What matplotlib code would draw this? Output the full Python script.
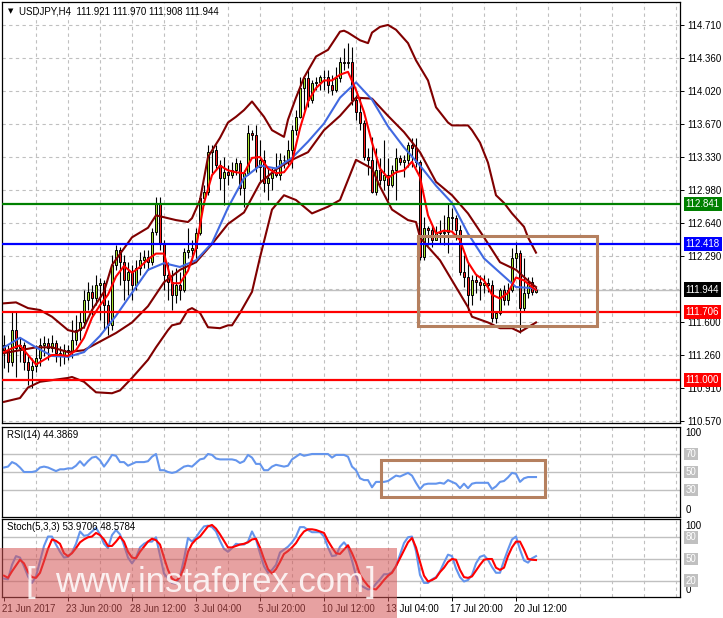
import matplotlib
matplotlib.use('Agg')
import matplotlib.pyplot as plt
import matplotlib.transforms as mtransforms
from matplotlib.patches import Rectangle
import numpy as np

plt.rcParams['font.family'] = ['Liberation Sans', 'DejaVu Sans']

# USDJPY H4 candles (134 bars, 21 Jun - 20 Jul 2017)
opens = [111.36, 111.31, 111.19, 111.52, 111.33, 111.36, 111.19, 111.10, 111.15, 111.23,
         111.36, 111.39, 111.33, 111.39, 111.28, 111.25, 111.31, 111.29, 111.42, 111.52,
         111.60, 111.83, 111.92, 111.86, 111.99, 112.01, 111.78, 111.57, 112.20, 112.36,
         112.23, 112.04, 112.13, 111.99, 112.17, 112.25, 112.28, 112.23, 112.55, 112.85,
         112.43, 112.10, 112.02, 111.89, 111.99, 111.94, 112.34, 112.36, 112.38, 112.53,
         112.90, 112.96, 113.38, 113.40, 113.25, 113.11, 113.17, 113.14, 113.19, 113.27,
         113.01, 113.16, 113.58, 113.56, 113.23, 113.30, 113.06, 113.11, 113.16, 113.14,
         113.30, 113.30, 113.40, 113.61, 113.75, 114.05, 114.16, 113.93, 114.10, 114.11,
         114.17, 114.17, 114.08, 114.03, 114.16, 114.32, 114.31, 114.32, 113.93, 113.80,
         113.69, 113.33, 113.30, 112.96, 113.19, 113.09, 113.14, 113.04, 113.19, 113.32,
         113.28, 113.30, 113.46, 113.42, 113.28, 112.28, 112.59, 112.57, 112.46, 112.55,
         112.53, 112.55, 112.70, 112.69, 112.57, 112.13, 112.08, 111.89, 112.04, 112.02,
         111.99, 112.01, 111.99, 111.65, 111.70, 111.94, 111.83, 111.94, 112.27, 112.33,
         111.75, 111.91, 112.02, 111.921]
highs = [111.47, 111.36, 111.71, 111.71, 111.44, 111.40, 111.26, 111.23, 111.36, 111.44,
         111.46, 111.44, 111.47, 111.42, 111.35, 111.37, 111.36, 111.63, 111.68, 111.71,
         111.94, 112.02, 111.99, 112.10, 112.07, 112.04, 111.83, 112.31, 112.41, 112.39,
         112.31, 112.23, 112.20, 112.25, 112.34, 112.36, 112.36, 112.59, 112.91, 112.91,
         112.46, 112.23, 112.15, 112.17, 112.13, 112.38, 112.59, 112.46, 112.59, 112.93,
         113.04, 113.46, 113.46, 113.46, 113.30, 113.33, 113.25, 113.28, 113.32, 113.30,
         113.19, 113.66, 113.61, 113.66, 113.51, 113.40, 113.21, 113.21, 113.37, 113.37,
         113.35, 113.51, 113.66, 113.82, 114.17, 114.17, 114.24, 114.13, 114.17, 114.19,
         114.24, 114.24, 114.19, 114.27, 114.38, 114.47, 114.52, 114.48, 113.98, 113.95,
         113.72, 113.42, 113.54, 113.42, 113.32, 113.51, 113.32, 113.25, 113.42, 113.35,
         113.35, 113.49, 113.53, 113.53, 113.30, 112.70, 112.61, 112.62, 112.61, 112.67,
         112.72, 112.85, 112.80, 112.72, 112.62, 112.31, 112.23, 112.10, 112.10, 112.10,
         112.10, 112.07, 112.04, 111.71, 111.96, 111.99, 112.01, 112.38, 112.44, 112.36,
         112.27, 112.08, 112.08, 111.970]
lows = [111.12, 111.08, 111.15, 111.03, 111.19, 111.10, 110.95, 110.92, 111.08, 111.15,
        111.25, 111.21, 111.29, 111.19, 111.14, 111.17, 111.21, 111.23, 111.36, 111.42,
        111.54, 111.73, 111.68, 111.78, 111.63, 111.52, 111.47, 111.52, 112.15, 111.99,
        111.83, 111.89, 111.83, 111.94, 112.10, 112.17, 112.15, 112.20, 112.51, 112.36,
        111.94, 111.83, 111.73, 111.80, 111.83, 111.92, 112.27, 112.23, 112.23, 112.51,
        112.83, 112.93, 113.16, 113.19, 112.98, 112.83, 113.04, 113.11, 113.14, 112.93,
        112.81, 113.14, 113.51, 113.17, 113.06, 112.96, 112.88, 112.98, 113.12, 113.09,
        113.21, 113.25, 113.21, 113.56, 113.74, 113.82, 113.85, 113.89, 114.03, 114.03,
        114.03, 114.00, 113.98, 114.01, 114.11, 114.24, 114.26, 113.87, 113.72, 113.61,
        113.30, 113.14, 112.95, 112.93, 113.04, 112.98, 112.88, 113.02, 112.88, 113.25,
        113.12, 113.23, 113.23, 113.23, 112.25, 112.25, 112.41, 112.39, 112.46, 112.43,
        112.41, 112.33, 112.57, 112.46, 112.10, 111.97, 111.71, 111.78, 111.91, 111.83,
        111.91, 111.92, 111.60, 111.59, 111.68, 111.78, 111.78, 111.92, 112.17, 111.49,
        111.71, 111.86, 111.89, 111.908]
closes = [111.31, 111.19, 111.52, 111.33, 111.36, 111.19, 111.10, 111.15, 111.23, 111.36,
          111.39, 111.33, 111.39, 111.28, 111.25, 111.31, 111.29, 111.42, 111.52, 111.60,
          111.83, 111.92, 111.86, 111.99, 112.01, 111.78, 111.57, 112.20, 112.36, 112.23,
          112.04, 112.13, 111.99, 112.17, 112.25, 112.28, 112.23, 112.55, 112.85, 112.43,
          112.10, 112.02, 111.89, 111.99, 111.94, 112.34, 112.36, 112.38, 112.53, 112.90,
          112.96, 113.38, 113.40, 113.25, 113.11, 113.17, 113.14, 113.19, 113.27, 113.01,
          113.16, 113.58, 113.56, 113.23, 113.30, 113.06, 113.11, 113.16, 113.14, 113.30,
          113.30, 113.40, 113.61, 113.75, 114.05, 114.16, 113.93, 114.10, 114.11, 114.17,
          114.17, 114.08, 114.03, 114.16, 114.32, 114.31, 114.32, 113.93, 113.80, 113.69,
          113.33, 113.30, 112.96, 113.19, 113.09, 113.14, 113.04, 113.19, 113.32, 113.28,
          113.30, 113.46, 113.42, 113.28, 112.28, 112.59, 112.57, 112.46, 112.55, 112.53,
          112.55, 112.70, 112.69, 112.57, 112.13, 112.08, 111.89, 112.04, 112.02, 111.99,
          112.01, 111.99, 111.65, 111.70, 111.94, 111.83, 111.94, 112.27, 112.33, 111.75,
          111.91, 112.02, 111.921, 111.944]

# fast MA (red), read every 2 bars
fast_bars = list(range(0, 133, 2)) + [133]
ma_fast = [111.29, 111.33, 111.36, 111.26, 111.16, 111.21, 111.26, 111.26, 111.25, 111.31,
           111.44, 111.65, 111.78, 111.89, 112.08, 112.19, 112.12, 112.18, 112.26, 112.32,
           112.32, 112.01, 112.01, 112.14, 112.38, 112.85, 113.14, 113.24, 113.19, 113.17,
           113.16, 113.32, 113.33, 113.21, 113.16, 113.17, 113.28, 113.63, 113.91, 114.05,
           114.13, 114.13, 114.19, 114.22, 114.03, 113.80, 113.48, 113.21, 113.11, 113.17,
           113.19, 113.28, 113.12, 112.72, 112.53, 112.56, 112.55, 112.46, 112.23, 112.10,
           112.04, 111.89, 111.85, 111.91, 112.07, 112.04, 111.97, 111.94]

# slow MA (blue) and Bollinger middle, read every 4 bars
band_bars = list(range(0, 133, 4)) + [133]
ma_slow = [111.34, 111.44, 111.34, 111.25, 111.24, 111.29, 111.46, 111.67, 111.91, 112.15,
           112.22, 112.18, 112.25, 112.43, 112.80, 113.11, 113.24, 113.21, 113.32, 113.49,
           113.68, 113.95, 114.11, 113.93, 113.65, 113.43, 113.24, 113.03, 112.85, 112.53,
           112.27, 112.12, 111.97, 111.96, 111.94]
bb_middle = [111.28, 111.31, 111.34, 111.34, 111.29, 111.31, 111.40, 111.49, 111.60, 111.77,
             112.02, 112.15, 112.23, 112.42, 112.63, 112.75, 113.06, 113.20, 113.30, 113.38,
             113.61, 113.76, 113.95, 113.94, 113.76, 113.59, 113.38, 113.07, 112.93, 112.74,
             112.49, 112.23, 112.15, 112.00, 111.97]

# Bollinger upper / lower, read at their turning points
upper_bars = [0, 3, 6, 9, 12, 16, 18, 20, 22, 25, 27, 32, 36, 38, 40, 43, 46, 47, 49, 51,
              54, 56, 58, 60, 62, 65, 67, 70, 71, 73, 75, 78, 81, 84, 85, 86, 89, 91, 92, 94,
              96, 98, 101, 103, 106, 108, 111, 112, 116, 117, 119, 121, 123, 125, 127, 130,
              131, 133]
bb_upper = [111.80, 111.81, 111.75, 111.73, 111.66, 111.52, 111.50, 111.55, 111.73, 111.92,
            112.20, 112.49, 112.59, 112.72, 112.70, 112.67, 112.65, 112.69, 112.88, 113.33,
            113.53, 113.69, 113.75, 113.82, 113.91, 113.75, 113.61, 113.54, 113.72, 113.95,
            114.16, 114.38, 114.45, 114.64, 114.65, 114.63, 114.55, 114.52, 114.63, 114.69,
            114.71, 114.66, 114.52, 114.34, 114.13, 113.85, 113.69, 113.66, 113.66, 113.61,
            113.48, 113.27, 112.93, 112.85, 112.74, 112.60, 112.49, 112.33]
lower_bars = [0, 4, 6, 9, 16, 17, 20, 23, 27, 29, 32, 36, 38, 41, 42, 44, 46, 47, 49, 51,
              54, 56, 57, 59, 62, 64, 67, 70, 73, 77, 81, 84, 88, 92, 94, 97, 101, 103, 104,
              106, 109, 112, 116, 117, 119, 121, 124, 127, 129, 131, 133]
bb_lower = [110.77, 110.81, 110.92, 110.98, 111.02, 111.03, 110.98, 110.87, 110.86, 110.89,
            111.02, 111.21, 111.34, 111.52, 111.57, 111.59, 111.73, 111.75, 111.70, 111.55,
            111.54, 111.57, 111.57, 111.70, 111.92, 112.28, 112.78, 112.93, 112.88, 112.74,
            112.81, 112.88, 113.30, 113.21, 113.02, 112.78, 112.67, 112.65, 112.49, 112.39,
            112.25, 112.04, 111.76, 111.66, 111.63, 111.60, 111.54, 111.54, 111.50, 111.55,
            111.60]

rsi = [55, 56, 61, 59, 55, 50, 50, 50, 51, 55,
       56, 55, 53, 51, 53, 53, 54, 54, 57, 62,
       57, 62, 66, 67, 63, 56, 62, 69, 68, 61,
       61, 57, 59, 61, 61, 61, 62, 67, 70, 52,
       52, 50, 49, 50, 53, 56, 57, 56, 60, 64,
       65, 70, 69, 65, 64, 64, 64, 64, 63, 60,
       62, 69, 66, 59, 59, 52, 52, 56, 58, 57,
       56, 57, 64, 67, 70, 68, 69, 70, 70, 70,
       70, 70, 66, 69, 69, 69, 67, 56, 52, 43,
       41, 41, 33, 39, 39, 39, 40, 43, 46, 45,
       47, 49, 46, 38, 31, 36, 37, 37, 37, 38,
       37, 41, 39, 37, 32, 37, 32, 37, 38, 38,
       38, 38, 31, 34, 39, 40, 44, 49, 48, 39,
       43, 44.4, 44.4, 44.3869]

stoch_main = [23, 22, 42, 54, 52, 40, 26, 17, 26, 47,
              68, 81, 81, 70, 60, 52, 53, 59, 71, 88,
              82, 83, 88, 93, 84, 71, 65, 83, 90, 84,
              69, 52, 44, 52, 66, 71, 74, 74, 80, 55,
              30, 23, 17, 16, 26, 50, 79, 74, 80, 88,
              95, 96, 94, 88, 75, 64, 60, 65, 71, 70,
              70, 74, 88, 77, 58, 40, 31, 35, 42, 59,
              63, 67, 73, 81, 94, 94, 90, 87, 87, 87,
              81, 66, 54, 55, 67, 73, 66, 48, 27, 14,
              11, 8, 9, 16, 22, 29, 29, 32, 40, 56,
              72, 80, 81, 61, 28, 17, 17, 22, 25, 33,
              45, 56, 54, 37, 25, 19, 21, 28, 44, 53,
              55, 49, 39, 31, 31, 48, 63, 77, 81, 63,
              48, 45, 51, 53.9706]
stoch_signal = [27, 24, 33, 41, 49, 44, 32, 25, 24, 31,
                47, 64, 77, 75, 71, 58, 54, 58, 65, 73,
                77, 80, 81, 86, 83, 77, 68, 68, 74, 81,
                74, 60, 52, 51, 60, 67, 74, 78, 76, 70,
                52, 35, 23, 20, 25, 38, 60, 71, 77, 81,
                88, 95, 97, 92, 84, 75, 66, 66, 68, 70,
                71, 73, 77, 78, 66, 50, 36, 30, 36, 46,
                57, 61, 66, 72, 81, 88, 91, 91, 90, 88,
                86, 75, 66, 58, 57, 63, 69, 58, 45, 28,
                20, 13, 9, 8, 14, 21, 27, 31, 40, 51,
                62, 73, 79, 66, 46, 27, 19, 21, 24, 32,
                38, 46, 50, 49, 35, 25, 24, 26, 34, 42,
                49, 50, 50, 38, 35, 38, 54, 66, 74, 74,
                63, 50, 49, 48.5784]

price_ticks = [114.710, 114.360, 114.020, 113.670, 113.330, 112.980, 112.640,
               112.290, 111.950, 111.600, 111.260, 110.910, 110.570]
level_prices = [112.841, 112.418, 111.706, 111.000]
level_colors = ['#008000', '#0000ff', '#ff0000', '#ff0000']
bid = 111.944
time_bars = [0, 16, 32, 48, 64, 80, 96, 112, 128]
time_labels = ['21 Jun 2017', '23 Jun 20:00', '28 Jun 12:00', '3 Jul 04:00', '5 Jul 20:00',
               '10 Jul 12:00', '13 Jul 04:00', '17 Jul 20:00', '20 Jul 12:00']

W, H = 723, 618
fig = plt.figure(figsize=(W / 100, H / 100), dpi=100)


def box(x0, y0, x1, y1):
    return [x0 / W, 1 - y1 / H, (x1 - x0) / W, (y1 - y0) / H]


ax = fig.add_axes(box(2, 2, 680, 423))
ax_rsi = fig.add_axes(box(2, 427, 680, 517))
ax_st = fig.add_axes(box(2, 519, 680, 597))

grid_c = '#c0c0c0'
dash = (0, (3, 3))
for a in (ax, ax_rsi, ax_st):
    a.set_xlim(-0.5, 169)
    for s in a.spines.values():
        s.set_linewidth(0.9)
        s.set_color('black')
    for b in range(8, 169, 8):
        a.axvline(b, color=grid_c, lw=0.8, ls=dash, zorder=0)
    a.set_xticks([])
    a.set_yticks([])

# ---- main price panel
ax.set_ylim(110.549, 114.950)
for p in price_ticks:
    ax.axhline(p, color=grid_c, lw=0.8, ls=dash, zorder=0)
ax.axhline(bid, color='#c0c0c0', lw=1.0, zorder=1)

x = np.arange(len(closes))
o = np.array(opens)
c = np.array(closes)
ax.vlines(x, lows, highs, color='black', lw=0.8, zorder=2)
body_col = np.where(c >= o, '#a6e22e', '#ff1a1a')
ax.bar(x, np.abs(c - o), bottom=np.minimum(o, c), width=0.72, color=body_col,
       edgecolor='black', linewidth=0.7, zorder=3)

ax.plot(upper_bars, bb_upper, color='#800000', lw=1.5, zorder=4)
ax.plot(band_bars, bb_middle, color='#800000', lw=1.5, zorder=4)
ax.plot(lower_bars, bb_lower, color='#800000', lw=1.5, zorder=4)
ax.plot(band_bars, ma_slow, color='#4169e1', lw=1.5, zorder=4)
ax.plot(fast_bars, ma_fast, color='#ff0000', lw=1.5, zorder=4)

for p, col in zip(level_prices, level_colors):
    ax.axhline(p, color=col, lw=1.6, zorder=5)

ax.add_patch(Rectangle((103.5, 111.563), 44.75, 0.941, fill=False,
                       edgecolor='#b5805f', lw=2.2, zorder=6))

ax.yaxis.tick_right()
shown = [p for p in price_ticks if abs(p - 111.95) > 0.001]
ax.set_yticks(shown)
ax.set_yticklabels(['%.3f' % p for p in shown])
ax.tick_params(axis='y', labelsize=7, length=3, width=0.7, pad=2)

ytr = mtransforms.blended_transform_factory(ax.transAxes, ax.transData)
for p, col in zip(level_prices + [bid], level_colors + ['black']):
    ax.text(1.0085, p, '%.3f' % p, transform=ytr, ha='left', va='center', fontsize=7,
            color='white', bbox=dict(boxstyle='square,pad=0.22', fc=col, ec='none'),
            clip_on=False, zorder=10)

ax.text(6 / 678, 1 - 9 / 421, '\u25bc', transform=ax.transAxes, fontsize=5,
        ha='left', va='center', family='DejaVu Sans')
ax.text(17 / 678, 1 - 9 / 421, 'USDJPY,H4  111.921 111.970 111.908 111.944',
        transform=ax.transAxes, fontsize=7, ha='left', va='center')

# ---- RSI panel
ax_rsi.set_ylim(0, 100)
for lv in (70, 50, 30):
    ax_rsi.axhline(lv, color=grid_c, lw=1.0, zorder=1)
ax_rsi.plot(x, rsi, color='#6495ed', lw=1.5, zorder=3)
ax_rsi.add_patch(Rectangle((94.25, 22.2), 41.0, 41.1, fill=False,
                           edgecolor='#b5805f', lw=2.2, zorder=4))
ax_rsi.text(5 / 678, 1 - 8 / 90, 'RSI(14) 44.3869', transform=ax_rsi.transAxes,
            fontsize=7, ha='left', va='center')
rtr = mtransforms.blended_transform_factory(ax_rsi.transAxes, ax_rsi.transData)
ax_rsi.text(1.0085, 93, '100', transform=rtr, fontsize=7, va='center', ha='left')
ax_rsi.text(1.0085, 7.5, '0', transform=rtr, fontsize=7, va='center', ha='left')
for lv in (70, 50, 30):
    ax_rsi.text(1.0085, lv, str(lv), transform=rtr, fontsize=7, va='center', ha='left',
                color='white', bbox=dict(boxstyle='square,pad=0.15', fc='#c0c0c0', ec='none'))

# ---- Stochastic panel
ax_st.set_ylim(-2.4, 105.2)
for lv in (80, 50, 20):
    ax_st.axhline(lv, color=grid_c, lw=1.0, zorder=1)
ax_st.plot(x, stoch_main, color='#6495ed', lw=1.5, zorder=3)
ax_st.plot(x, stoch_signal, color='#ff0000', lw=1.5, zorder=4)
ax_st.text(5 / 678, 1 - 8 / 78, 'Stoch(5,3,3) 53.9706 48.5784', transform=ax_st.transAxes,
           fontsize=7, ha='left', va='center')
str_ = mtransforms.blended_transform_factory(ax_st.transAxes, ax_st.transData)
ax_st.text(1.0085, 96, '100', transform=str_, fontsize=7, va='center', ha='left')
ax_st.text(1.0085, 7.5, '0', transform=str_, fontsize=7, va='center', ha='left')
for lv in (80, 50, 20):
    ax_st.text(1.0085, lv, str(lv), transform=str_, fontsize=7, va='center', ha='left',
               color='white', bbox=dict(boxstyle='square,pad=0.15', fc='#c0c0c0', ec='none'))

ax_st.set_xticks(time_bars)
ax_st.set_xticklabels(time_labels)
ax_st.tick_params(axis='x', labelsize=7, length=3, width=0.7, pad=2)
shift = mtransforms.ScaledTranslation(-2 / 100, 0, fig.dpi_scale_trans)
for t in ax_st.get_xticklabels():
    t.set_ha('left')
    t.set_transform(t.get_transform() + shift)

# ---- watermark
fig.add_artist(Rectangle((0, 0), 397 / W, 70 / H, transform=fig.transFigure,
                         facecolor=(0.83, 0.33, 0.33), alpha=0.55, edgecolor='none', zorder=20))
for xp, s in ((25, '['), (55, 'www.instaforex.com'), (366, ']')):
    fig.text(xp / W, 1 - 592 / H, s, fontsize=25, color='white', alpha=0.85,
             ha='left', va='baseline', zorder=21)

fig.savefig('out.png', dpi=100)
